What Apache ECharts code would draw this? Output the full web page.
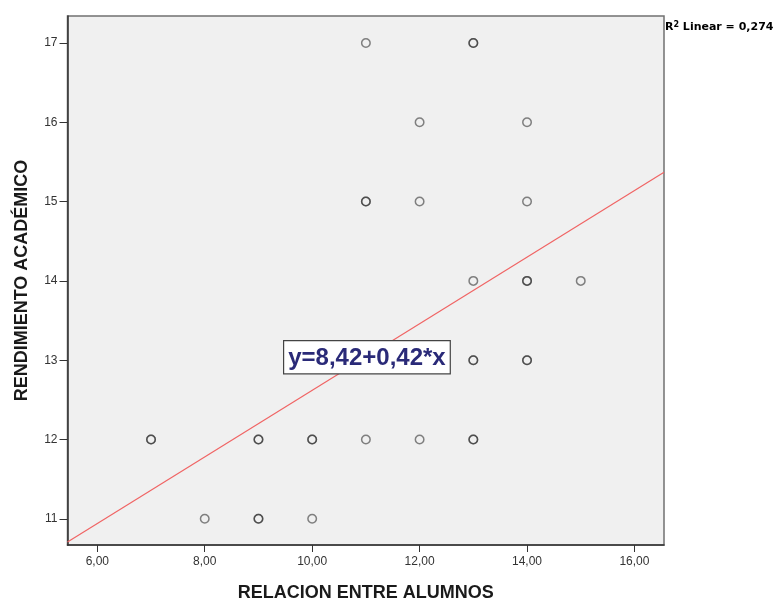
<!DOCTYPE html>
<html><head><meta charset="utf-8">
<script src="https://cdn.jsdelivr.net/npm/echarts@6/dist/echarts.min.js"></script>
<style>html,body{margin:0;padding:0;background:#fff}#c{width:779px;height:599px}</style>
</head><body><div id="c"></div>
<script>
// Data (duplicates listed where circles look darker/overlapping)
const relacion = [11,13,13, 12,14, 11,11,12,14, 13,14,14,15, 13,13,14,14, 7,7,9,9,10,10,11,12,13,13, 8,9,9,10];
const rendimiento = [17,17,17, 16,16, 15,15,15,15, 14,14,14,14, 13,13,13,13, 12,12,12,12,12,12,12,12,12,12, 11,11,11,11];
const xTicks = [6,8,10,12,14,16];
const yTicks = [11,12,13,14,15,16,17];
const intercept = 8.42;
const slope = 0.42;
const r2Text = '0,274';
const xMin = 5.445, xMax = 16.55, yMin = 10.67, yMax = 17.34;

const pts = relacion.map((x,i)=>[x, rendimiento[i]]);
const lineData = [[xMin, intercept + slope*xMin], [xMax, intercept + slope*xMax]];
const fmt = v => v.toFixed(2).replace('.', ',');

const chart = echarts.init(document.getElementById('c'));
chart.setOption({
  animation:false,
  grid:{left:67.5,right:115,top:16,bottom:54,outerBoundsMode:'none',containLabel:false,show:true,backgroundColor:'#f0f0f0',borderColor:'#707070',borderWidth:1.5},
  xAxis:{type:'value',min:xMin,max:xMax,
    name:'RELACION ENTRE ALUMNOS',nameLocation:'middle',nameGap:39,
    nameTextStyle:{fontFamily:'Liberation Sans, Arial',fontWeight:'bold',fontSize:18,color:'#1a1a1a'},
    axisLine:{show:true,lineStyle:{color:'#333',width:1.5}},
    axisTick:{show:true,length:7,customValues:xTicks,lineStyle:{color:'#333'}},
    axisLabel:{customValues:xTicks,formatter:fmt,fontFamily:'Liberation Sans, Arial',fontSize:12,color:'#333',margin:11},
    splitLine:{show:false}},
  yAxis:{type:'value',min:yMin,max:yMax,
    name:'RENDIMIENTO ACADÉMICO',nameLocation:'middle',nameGap:36,nameRotate:90,
    nameTextStyle:{fontFamily:'Liberation Sans, Arial',fontWeight:'bold',fontSize:18,color:'#1a1a1a'},
    axisLine:{show:true,lineStyle:{color:'#333',width:1.5}},
    axisTick:{show:true,length:8,customValues:yTicks,lineStyle:{color:'#333'}},
    axisLabel:{customValues:yTicks,fontFamily:'Liberation Sans, Arial',fontSize:12,color:'#333',margin:10},
    splitLine:{show:false}},
  series:[
    {type:'line',data:lineData,showSymbol:false,symbol:'none',lineStyle:{color:'#f06464',width:1.2},silent:true,z:2},
    {type:'scatter',data:pts,symbol:'circle',symbolSize:8.5,
      itemStyle:{color:'rgba(0,0,0,0)',borderColor:'rgba(40,40,40,0.7)',borderWidth:1.5},z:3}
  ],
  graphic:[
    {type:'text',left:283,top:340,z:10,
      style:{text:'y='+String(intercept).replace('.',',')+'+'+String(slope).replace('.',',')+'*x',
        font:'bold 24px "Liberation Sans", Arial',fill:'#2a2a78',
        backgroundColor:'#fff',borderColor:'#444',borderWidth:1.2,padding:[5,4,3,4]}},
    {type:'text',left:665,top:21,z:10,
      style:{rich:{a:{font:'bold 11px "DejaVu Sans"',fill:'#000'},s:{font:'bold 8px "DejaVu Sans"',fill:'#000',verticalAlign:'top',padding:[0,0,4,0]}},
        text:'{a|R}{s|2}{a| Linear = '+r2Text+'}'}}
  ]
});
</script></body></html>
